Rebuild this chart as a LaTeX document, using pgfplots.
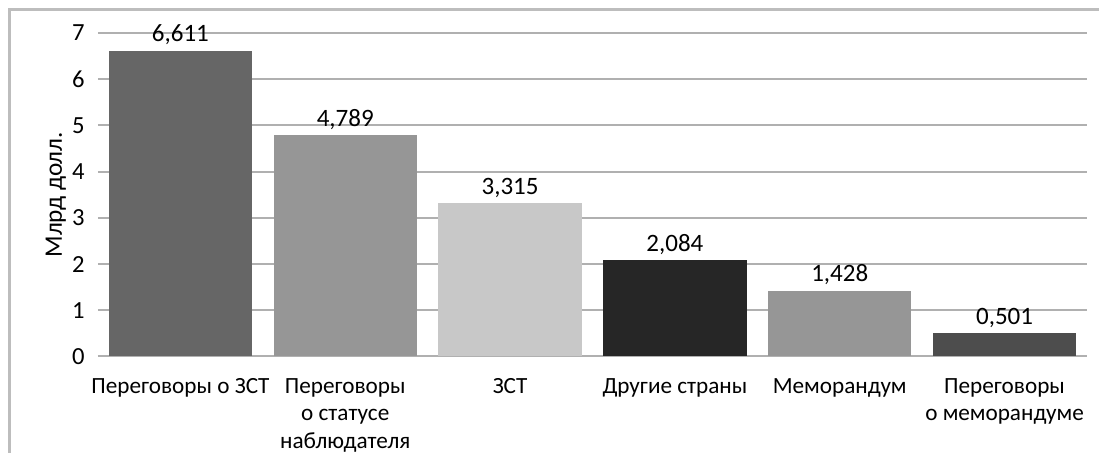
\documentclass[border=0pt]{standalone}
\usepackage{pgfplots}
\pgfplotsset{compat=1.18}
\usepackage{fontspec}
\setmainfont{Carlito}
\definecolor{gridgray}{HTML}{B0B0B0}
\definecolor{framegray}{HTML}{BDBDBD}
\definecolor{cA}{HTML}{666666}
\definecolor{cB}{HTML}{969696}
\definecolor{cC}{HTML}{C8C8C8}
\definecolor{cD}{HTML}{262626}
\definecolor{cE}{HTML}{969696}
\definecolor{cF}{HTML}{4D4D4D}
\begin{document}
\fontsize{12.3pt}{13.25pt}\selectfont
\begin{tikzpicture}
\useasboundingbox (0,0) rectangle (549.5pt,-226.5pt);
\clip (0,0) rectangle (549.5pt,-226.5pt);
\draw[framegray, line width=1.5pt] (4.75pt,-4.75pt) rectangle (580pt,-260pt);
\begin{axis}[
  at={(49pt,-178.25pt)}, anchor=south west,
  scale only axis,
  width=494.5pt, height=161.75pt,
  xmin=-0.5, xmax=5.5, ymin=0, ymax=7,
  ybar, bar width=0.87, bar shift=0pt,
  ytick={0,1,...,7},
  xtick={0,...,5},
  xticklabels={Переговоры о ЗСТ, {Переговоры\\о статусе\\наблюдателя}, ЗСТ, Другие страны, Меморандум, {Переговоры\\о меморандуме}},
  xticklabel style={align=center, anchor=north, inner sep=0pt, yshift=-11pt, font=\fontsize{11.6pt}{13.6pt}\selectfont},
  yticklabel style={anchor=east, inner sep=0pt, xshift=-6.5pt, font=\fontsize{12.3pt}{13pt}\selectfont},
  /pgf/number format/assume math mode=true,
  major tick length=0pt,
  axis x line*=bottom, axis y line*=left,
  x axis line style={-, draw=gridgray, line width=1pt},
  y axis line style={draw=none},
  ymajorgrids, grid style={gridgray, line width=1pt},
  ylabel={Млрд долл.},
  ylabel style={at={([xshift=-18pt]axis description cs:0,0.5)}, anchor=base, font=\fontsize{12.6pt}{13pt}\selectfont},
  nodes near coords={\pgfmathprintnumber[fixed, fixed zerofill, precision=3, use comma]{\pgfplotspointmeta}},
  nodes near coords style={anchor=base, inner sep=0pt, yshift=4.5pt, text=black, font=\fontsize{12.5pt}{13pt}\selectfont},
  every axis plot/.append style={draw=none},
]
\addplot[fill=cA] coordinates {(0,6.611)};
\addplot[fill=cB] coordinates {(1,4.789)};
\addplot[fill=cC] coordinates {(2,3.315)};
\addplot[fill=cD] coordinates {(3,2.084)};
\addplot[fill=cE] coordinates {(4,1.428)};
\addplot[fill=cF] coordinates {(5,0.501)};
\end{axis}
\end{tikzpicture}
\end{document}
